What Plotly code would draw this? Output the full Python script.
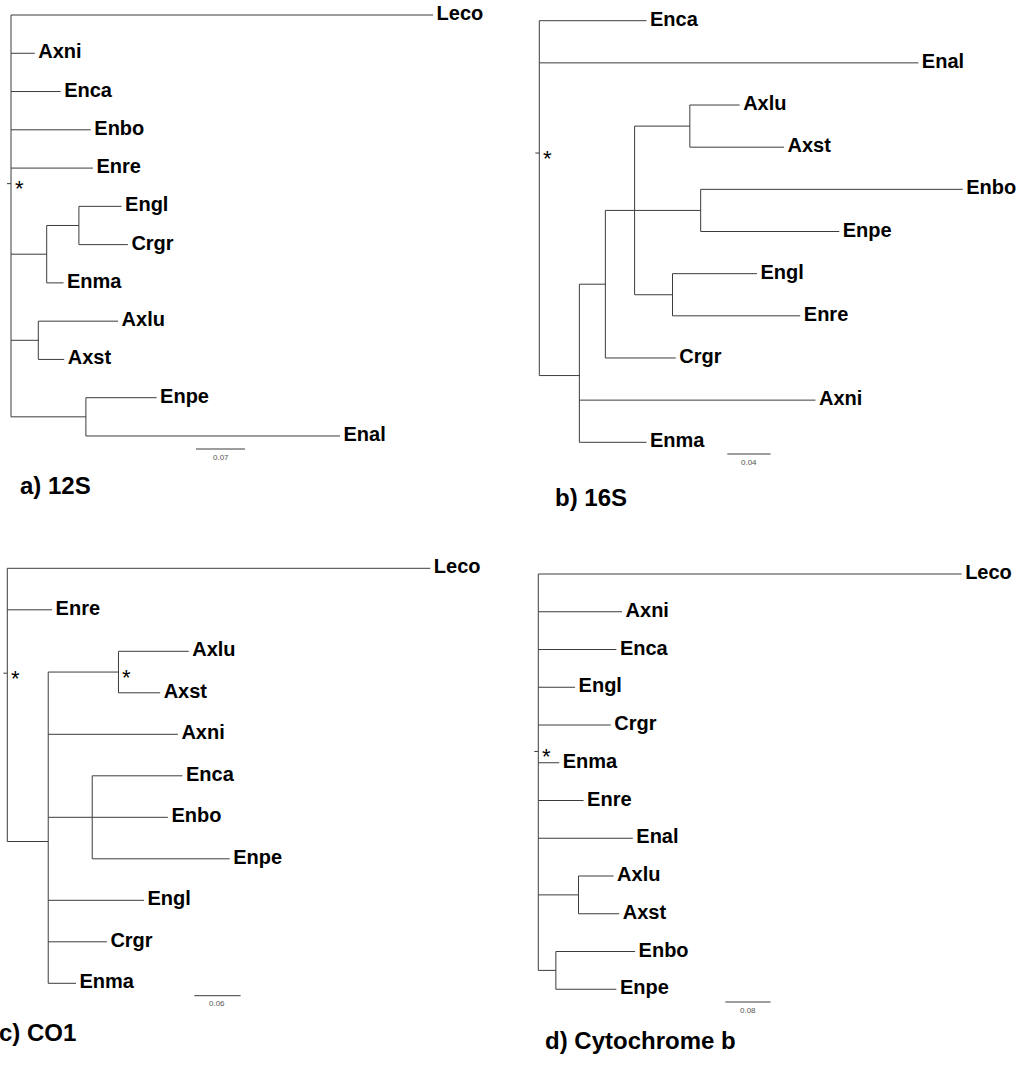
import plotly.graph_objects as go

W, H = 1019, 1070

# ---------------- data (branch lengths) ----------------
# a) 12S
a_nodes = ["Leco", "Axni", "Enca", "Enbo", "Enre", "A1", "A2", "Engl", "Crgr", "Enma",
           "A3", "Axlu", "Axst", "A4", "Enpe", "Enal"]
a_parent = ["root", "root", "root", "root", "root", "root", "A1", "A2", "A2", "A1",
            "root", "A3", "A3", "root", "A4", "A4"]
a_length = [0.603, 0.034, 0.071, 0.114, 0.117, 0.051, 0.046, 0.061, 0.070, 0.024,
            0.039, 0.114, 0.037, 0.107, 0.101, 0.363]
a_starred = ["root"]

# b) 16S
b_nodes = ["Enca", "Enal", "B1", "B2", "B3", "B4", "Axlu", "Axst", "B5", "Enbo", "Enpe",
           "B6", "Engl", "Enre", "Crgr", "Axni", "Enma"]
b_parent = ["root", "root", "root", "B1", "B2", "B3", "B4", "B4", "B3", "B5", "B5",
            "B3", "B6", "B6", "B2", "B1", "B1"]
b_length = [0.099, 0.350, 0.037, 0.024, 0.027, 0.051, 0.046, 0.087, 0.061, 0.242, 0.128,
            0.035, 0.078, 0.118, 0.065, 0.218, 0.062]
b_starred = ["root"]

# c) CO1
c_nodes = ["Leco", "Enre", "C1", "C2", "Axlu", "Axst", "Axni", "C3", "Enca", "Enbo", "Enpe",
           "Engl", "Crgr", "Enma"]
c_parent = ["root", "root", "root", "C1", "C2", "C2", "C1", "C1", "C3", "C3", "C3",
            "C1", "C1", "C1"]
c_length = [0.548, 0.058, 0.053, 0.091, 0.091, 0.054, 0.168, 0.057, 0.117, 0.098, 0.178,
            0.124, 0.076, 0.036]
c_starred = ["root", "C2"]

# d) Cytochrome b
d_nodes = ["Leco", "Axni", "Enca", "Engl", "Crgr", "Enma", "Enre", "Enal", "D1", "Axlu",
           "Axst", "D2", "Enbo", "Enpe"]
d_parent = ["root", "root", "root", "root", "root", "root", "root", "root", "root", "D1",
            "D1", "root", "D2", "D2"]
d_length = [0.748, 0.148, 0.138, 0.065, 0.128, 0.037, 0.080, 0.167, 0.071, 0.062,
            0.072, 0.031, 0.140, 0.107]
d_starred = ["root"]

scale_values = [0.07, 0.04, 0.06, 0.08]
scale_labels = ["0.07", "0.04", "0.06", "0.08"]
panel_titles = ["a) 12S", "b) 16S", "c) CO1", "d) Cytochrome b"]

trees = [
    (a_nodes, a_parent, a_length, a_starred),
    (b_nodes, b_parent, b_length, b_starred),
    (c_nodes, c_parent, c_length, c_starred),
    (d_nodes, d_parent, d_length, d_starred),
]

# ---------------- layout geometry (pixels) ----------------
geom = [
    dict(box=(0, 505, 0, 535), root_x=11.0, top=15.0, dy=38.27, ppu=700.0, bar=(196, 449), title=(18, 485)),
    dict(box=(505, 1019, 0, 535), root_x=539.3, top=20.7, dy=42.16, ppu=1083.0, bar=(727.3, 454), title=(553, 497)),
    dict(box=(0, 505, 535, 1070), root_x=7.3, top=568.3, dy=41.5, ppu=772.0, bar=(194.3, 995.7), title=(-3, 1032)),
    dict(box=(505, 1019, 535, 1070), root_x=538.3, top=574.0, dy=37.75, ppu=566.0, bar=(725.3, 1002), title=(543.3, 1040)),
]

LINE_COLOR = "#3c3c3c"
FONT = "Liberation Sans, Arial, sans-serif"


def layout_tree(nodes, parents, lengths):
    children = {}
    blen = {}
    for n, p, l in zip(nodes, parents, lengths):
        children.setdefault(p, []).append(n)
        blen[n] = l
    xs, ys = {"root": 0.0}, {}
    tips = []
    counter = [0]

    def walk(n):
        if n not in children:
            ys[n] = float(counter[0])
            counter[0] += 1
            tips.append(n)
            return
        for c in children[n]:
            xs[c] = xs[n] + blen[c]
            walk(c)
        ys[n] = sum(ys[c] for c in children[n]) / len(children[n])

    walk("root")
    return xs, ys, children, tips


fig = go.Figure()
annotations = []

for i, ((nodes, parents, lengths, starred), g) in enumerate(zip(trees, geom)):
    sfx = "" if i == 0 else str(i + 1)
    xref, yref = "x" + sfx, "y" + sfx
    xs, ys, children, tips = layout_tree(nodes, parents, lengths)
    ppu = g["ppu"]

    lx, ly = [], []
    # root stub
    lx += [-4 / ppu, 0, None]
    ly += [ys["root"], ys["root"], None]
    for n, p in zip(nodes, parents):
        lx += [xs[p], xs[n], None]
        ly += [ys[n], ys[n], None]
    for n, ch in children.items():
        lx += [xs[n], xs[n], None]
        ly += [ys[ch[0]], ys[ch[-1]], None]

    # scale bar
    bx = (g["bar"][0] - g["root_x"]) / ppu
    by = (g["bar"][1] - g["top"]) / g["dy"]
    lx += [bx, bx + scale_values[i], None]
    ly += [by, by, None]

    fig.add_trace(go.Scatter(x=lx, y=ly, mode="lines", xaxis=xref, yaxis=yref,
                             line=dict(color=LINE_COLOR, width=1), hoverinfo="skip",
                             showlegend=False))

    fig.add_trace(go.Scatter(x=[xs[t] + 3.5 / ppu for t in tips], y=[ys[t] for t in tips],
                             text=tips, mode="text", textposition="middle right",
                             textfont=dict(family=FONT, size=20, color="black", weight="bold"),
                             xaxis=xref, yaxis=yref, cliponaxis=False, hoverinfo="skip",
                             showlegend=False))

    for s in starred:
        annotations.append(dict(x=xs[s], y=ys[s], xref=xref, yref=yref, text="*",
                                showarrow=False, xanchor="center", yanchor="middle",
                                xshift=8, yshift=-5,
                                font=dict(family=FONT, size=22, color="black")))

    annotations.append(dict(x=bx + scale_values[i] / 2, y=by, xref=xref, yref=yref,
                            text=scale_labels[i], showarrow=False, xanchor="center",
                            yanchor="middle", yshift=-8,
                            font=dict(family=FONT, size=8, color="#555555")))

    annotations.append(dict(x=g["title"][0] / W, y=1 - g["title"][1] / H, xref="paper", yref="paper",
                            text=panel_titles[i], showarrow=False, xanchor="left", yanchor="middle",
                            font=dict(family=FONT, size=24, color="black", weight="bold")))

    bx0, bx1, by0, by1 = g["box"]
    fig.layout["xaxis" + sfx] = dict(domain=[bx0 / W, bx1 / W],
                                     range=[(bx0 - g["root_x"]) / ppu, (bx1 - g["root_x"]) / ppu],
                                     visible=False, anchor=yref, fixedrange=True)
    fig.layout["yaxis" + sfx] = dict(domain=[1 - by1 / H, 1 - by0 / H],
                                     range=[(by1 - g["top"]) / g["dy"], (by0 - g["top"]) / g["dy"]],
                                     visible=False, anchor=xref, fixedrange=True)

fig.update_layout(width=W, height=H, margin=dict(l=0, r=0, t=0, b=0),
                  paper_bgcolor="white", plot_bgcolor="white",
                  annotations=annotations, showlegend=False)

fig.write_html("out.html", config={"displayModeBar": False},
               post_script="document.body.style.margin='0px';document.body.style.overflow='hidden';")
